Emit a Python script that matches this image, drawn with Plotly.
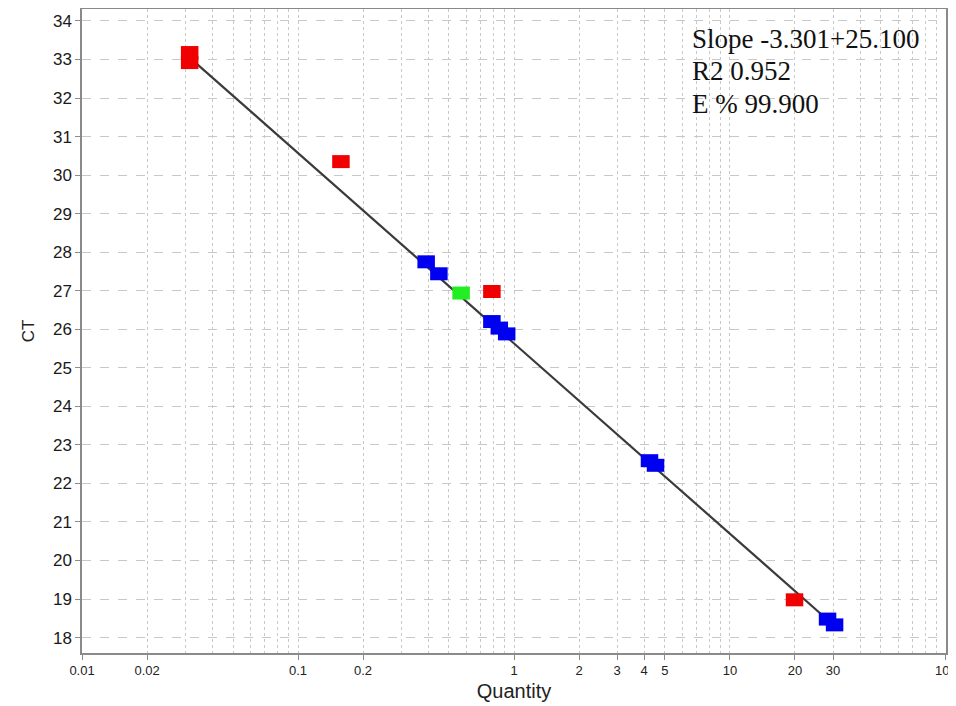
import plotly.graph_objects as go

# ---- data ----
red_x = [0.0315, 0.0315, 0.158, 0.79, 19.9]
red_y = [33.18, 32.92, 30.35, 26.98, 18.98]

blue_x = [0.392, 0.449, 0.79, 0.855, 0.925, 4.24, 4.52, 28.3, 30.5]
blue_y = [27.75, 27.44, 26.20, 26.03, 25.88, 22.59, 22.47, 18.48, 18.33]

green_x = [0.569]
green_y = [26.94]

fit_x = [0.0315, 30.5]
fit_y = [33.05, 18.30]

x_tickvals = [0.01, 0.02, 0.1, 0.2, 1, 2, 3, 4, 5, 10, 20, 30, 100]
x_ticktext = ["0.01", "0.02", "0.1", "0.2", "1", "2", "3", "4", "5", "10", "20", "30", "100"]
x_minor = [m * d for d in [0.01, 0.1, 1, 10] for m in range(2, 10)]
x_minor = [v for v in x_minor if not any(abs(v - t) < 1e-9 for t in x_tickvals)]

annot_lines = ["Slope -3.301+25.100", "R2 0.952", "E % 99.900"]

# ---- figure ----
fig = go.Figure()

fig.add_trace(go.Scatter(x=fit_x, y=fit_y, mode="lines",
                         line=dict(color="#3a3a3a", width=2.2), hoverinfo="skip"))

def rect_markers(xs, ys, color):
    return go.Scatter(x=xs, y=ys, mode="markers",
                      marker=dict(symbol="line-ew", size=12.5,
                                  line=dict(color=color, width=13)))

fig.add_trace(rect_markers(red_x, red_y, "#f00000"))
fig.add_trace(rect_markers(blue_x, blue_y, "#0000f0"))
fig.add_trace(rect_markers(green_x, green_y, "#22ee22"))

sans = "Liberation Sans, Arial, sans-serif"

fig.update_xaxes(type="log", range=[-2.0002, 2.0002], automargin=False,
                 tickmode="array", tickvals=x_tickvals, ticktext=x_ticktext,
                 ticklabeloverflow="allow",
                 showgrid=True, gridcolor="#c8c8c8", griddash="dot", gridwidth=1,
                 minor=dict(tickmode="array", tickvals=x_minor, showgrid=True,
                            gridcolor="#c8c8c8", griddash="dot", gridwidth=1, ticks=""),
                 showline=True, linecolor="#8a8a8a", linewidth=1.5, mirror=True,
                 ticks="outside", ticklen=5, tickcolor="#8a8a8a",
                 tickfont=dict(family=sans, size=13, color="#222222"), zeroline=False,
                 title=dict(text="Quantity", standoff=7,
                            font=dict(family=sans, size=20, color="#222222")))

fig.update_yaxes(range=[17.6, 34.31], tickmode="linear", tick0=18, dtick=1, automargin=False,
                 ticklabeloverflow="allow",
                 showgrid=True, gridcolor="#c8c8c8", griddash="dash", gridwidth=1,
                 showline=True, linecolor="#8a8a8a", linewidth=1.5, mirror=True,
                 ticks="outside", ticklen=5, tickcolor="#8a8a8a",
                 tickfont=dict(family=sans, size=17, color="#1a1a1a"),
                 zeroline=False,
                 title=dict(text="CT", standoff=14,
                            font=dict(family=sans, size=17, color="#222222")))

for txt, yy in zip(annot_lines, [0.9535, 0.9039, 0.8527]):
    fig.add_annotation(text=txt, xref="paper", yref="paper", x=0.7037, y=yy,
                       xanchor="left", yanchor="middle", showarrow=False, align="left",
                       font=dict(family="Liberation Serif, Times New Roman, serif", size=27, color="#111111"))

# the page body has an 8px margin, so the figure is sized/placed to compensate
fig.update_layout(width=948, height=698, showlegend=False,
                  plot_bgcolor="white", paper_bgcolor="white",
                  margin=dict(l=74, r=10, t=1, b=53))

fig.write_html("out.html")
